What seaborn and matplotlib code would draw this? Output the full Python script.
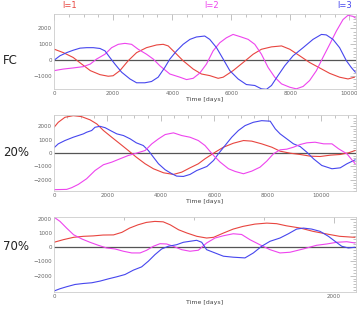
import numpy as np
import pandas as pd
import matplotlib
matplotlib.use("Agg")
import matplotlib.pyplot as plt
from matplotlib.ticker import MultipleLocator, AutoMinorLocator
import seaborn as sns

# ---------------- data ----------------
# Panel FC
fc_red_t = [0, 315, 650, 935, 1230, 1555, 1835, 2000, 2230, 2510, 2795, 3130, 3470, 3695, 3865, 4150, 4370, 4710, 4990,
            5270, 5555, 5725, 6060, 6400, 6740, 7020, 7360, 7700, 7980, 8315, 8650, 8990, 9330, 9665, 9950, 10170]
fc_red_v = [700, 480, 175, -235, -650, -900, -1000, -970, -650, -30, 480, 790, 960, 1000, 900, 380, -30, -550, -860,
            -960, -1130, -1060, -650, -140, 380, 690, 840, 900, 690, 280, -140, -480, -820, -1060, -1170, -1060]
fc_mag_t = [0, 315, 650, 990, 1230, 1440, 1725, 1950, 2175, 2400, 2625, 2850, 3130, 3360, 3580, 3920, 4260, 4485, 4710,
            4935, 5160, 5385, 5610, 5835, 6060, 6335, 6570, 6795, 7020, 7245, 7470, 7700, 7980, 8200, 8430, 8650, 8880,
            9100, 9330, 9555, 9780, 9950, 10120, 10200]
fc_mag_v = [-650, -550, -480, -400, -235, 75, 380, 790, 1000, 1060, 1000, 690, 380, 75, -340, -860, -1060, -1210, -1130,
            -800, -235, 590, 1100, 1410, 1620, 1460, 1310, 1000, 380, -450, -1060, -1480, -1690, -1790, -1640, -1270, -650,
            175, 1000, 1830, 2550, 2820, 2750, 2650]
fc_blu_t = [0, 200, 430, 650, 880, 1105, 1330, 1555, 1725, 1890, 2060, 2290, 2570, 2795, 3075, 3300, 3525, 3750, 3920,
            4150, 4370, 4600, 4820, 5100, 5270, 5500, 5725, 5950, 6230, 6510, 6795, 7020, 7190, 7360, 7580, 7810, 8090,
            8430, 8765, 9050, 9215, 9440, 9665, 9895, 10060, 10200]
fc_blu_v = [0, 280, 480, 630, 760, 790, 790, 740, 590, 175, -235, -750, -1170, -1410, -1410, -1330, -1060, -450, 75,
            590, 1000, 1310, 1460, 1520, 1310, 790, 75, -650, -1170, -1520, -1580, -1790, -1820, -1580, -960, -340, 280,
            790, 1310, 1620, 1590, 1310, 790, -30, -450, -750]

# Panel 20%
p20_red_t = [0, 160, 410, 720, 1030, 1350, 1600, 1850, 2160, 2470, 2780, 3080, 3410, 3720, 4100, 4470, 4780, 5090, 5400,
             5650, 6030, 6340, 6710, 7090, 7400, 7770, 8150, 8460, 8840, 9210, 9590, 9960, 10340, 10710, 11020, 11270]
p20_red_v = [1900, 2280, 2650, 2770, 2700, 2460, 2160, 1670, 1170, 680, 185, -310, -800, -1170, -1470, -1590, -1420, -1100,
             -800, -430, 60, 430, 725, 925, 880, 680, 430, 135, -15, -110, -235, -260, -160, -110, 15, 185]
p20_blu_t = [0, 160, 410, 720, 1100, 1220, 1410, 1535, 1720, 1910, 2160, 2350, 2600, 2850, 3080, 3340, 3530, 3720, 3910,
             4160, 4410, 4590, 4840, 5090, 5340, 5720, 5970, 6150, 6400, 6650, 6900, 7150, 7460, 7770, 8090, 8280, 8460,
             8710, 8960, 9210, 9460, 9710, 10020, 10400, 10710, 10960, 11270]
p20_blu_v = [385, 680, 925, 1170, 1420, 1540, 1670, 1910, 1980, 1880, 1615, 1420, 1295, 1050, 755, 555, 185, -310, -800,
             -1245, -1540, -1715, -1740, -1590, -1300, -1000, -555, -60, 555, 1170, 1670, 2035, 2280, 2400, 2360, 1790, 1420,
             1050, 680, 480, 60, -430, -925, -1170, -1100, -800, -505]
p20_mag_t = [0, 475, 660, 910, 1220, 1535, 1850, 2160, 2470, 2780, 3080, 3410, 3660, 3910, 4160, 4470, 4780, 5090, 5400,
             5650, 5970, 6220, 6530, 6780, 7090, 7400, 7710, 7960, 8210, 8460, 8710, 8960, 9210, 9460, 9770, 10090, 10400,
             10650, 10960, 11270]
p20_mag_v = [-2720, -2700, -2575, -2330, -1910, -1300, -870, -680, -430, -185, -15, 185, 680, 1050, 1370, 1495, 1295, 1170,
             925, 555, -185, -680, -1170, -1370, -1540, -1345, -1050, -605, -60, 235, 285, 430, 630, 755, 800, 680, 680,
             310, -60, -800]

# Panel 70%
p70_red_t = [0, 67, 140, 210, 280, 350, 425, 485, 540, 600, 660, 720, 780, 830, 890, 950, 1020, 1090, 1140, 1210, 1280,
             1350, 1435, 1520, 1590, 1660, 1760, 1850, 1950, 2040, 2115, 2150]
p70_red_v = [350, 535, 700, 770, 800, 860, 870, 1050, 1350, 1580, 1750, 1820, 1790, 1580, 1230, 1000, 770, 650, 700, 1000,
             1280, 1470, 1630, 1700, 1660, 1510, 1350, 1120, 930, 770, 720, 700]
p70_mag_t = [0, 43, 90, 140, 200, 257, 316, 376, 436, 495, 555, 615, 662, 710, 757, 805, 852, 912, 971, 1031, 1090, 1150,
             1210, 1280, 1340, 1400, 1470, 1543, 1614, 1686, 1780, 1876, 1948, 2019, 2091, 2150]
p70_mag_v = [2120, 1820, 1350, 880, 580, 350, 140, -50, -120, -280, -400, -400, -210, 70, 250, 230, 70, -170, -280, -210,
             300, 650, 810, 950, 900, 530, 180, -170, -400, -350, -120, 140, 230, 350, 390, 300]
p70_blu_t = [0, 43, 90, 150, 210, 270, 330, 390, 448, 507, 567, 626, 674, 721, 769, 817, 876, 924, 971, 1019, 1055, 1090,
             1150, 1210, 1280, 1364, 1424, 1483, 1543, 1614, 1674, 1733, 1781, 1840, 1900, 1960, 2007, 2055, 2102, 2150]
p70_blu_v = [-3080, -2920, -2780, -2620, -2550, -2500, -2380, -2220, -2080, -1920, -1610, -1380, -980, -520, -120, 70, 180,
             350, 420, 490, 350, -170, -400, -630, -700, -750, -400, 70, 420, 650, 950, 1280, 1350, 1280, 1120, 770, 420,
             70, -50, 0]

row_labels = ["FC", "20%", "70%"]
degree_labels = ["l=1", "l=2", "l=3"]
xlabel = "Time [days]"

RED, MAG, BLU = "#e8453f", "#ee44ee", "#4646ee"

panels = [
    dict(series=[(fc_red_t, fc_red_v, RED), (fc_mag_t, fc_mag_v, MAG), (fc_blu_t, fc_blu_v, BLU)],
         xlim=(0, 10220), ylim=(-1800, 2900), xmaj=2000, yticks=[-1000, 0, 1000, 2000]),
    dict(series=[(p20_red_t, p20_red_v, RED), (p20_blu_t, p20_blu_v, BLU), (p20_mag_t, p20_mag_v, MAG)],
         xlim=(0, 11300), ylim=(-2820, 2820), xmaj=2000, yticks=[-2000, -1000, 0, 1000, 2000]),
    dict(series=[(p70_red_t, p70_red_v, RED), (p70_mag_t, p70_mag_v, MAG), (p70_blu_t, p70_blu_v, BLU)],
         xlim=(0, 2157), ylim=(-3150, 2130), xmaj=2000, yticks=[-2000, -1000, 0, 1000, 2000]),
]

sns.set_style("white")
plt.rcParams['font.family'] = ['DejaVu Sans']

fig = plt.figure(figsize=(3.57, 3.13), dpi=100)
W, H = 357, 313
boxes = [(54, 14, 356, 89), (54, 115, 356, 191), (54, 217, 356, 292)]
label_y = [60, 153, 247]

for i, (p, (x0, y0, x1, y1)) in enumerate(zip(panels, boxes)):
    ax = fig.add_axes([x0 / W, 1 - y1 / H, (x1 - x0) / W, (y1 - y0) / H])
    ax.axhline(0, color="#555555", lw=0.9, zorder=1)
    for t, v, c in p["series"]:
        df = pd.DataFrame({"t": t, "v": v})
        sns.lineplot(data=df, x="t", y="v", ax=ax, color=c, lw=0.8, zorder=2)
    ax.set_xlim(*p["xlim"])
    ax.set_ylim(*p["ylim"])
    ax.xaxis.set_major_locator(MultipleLocator(p["xmaj"]))
    ax.xaxis.set_minor_locator(AutoMinorLocator(4))
    ax.set_yticks(p["yticks"])
    ax.yaxis.set_minor_locator(AutoMinorLocator(5))
    ax.tick_params(which="both", direction="in", top=True, right=True, colors="#aaaaaa",
                   labelcolor="#666666", labelsize=4, pad=1.5)
    ax.tick_params(which="major", length=4, width=0.5)
    ax.tick_params(which="minor", length=2, width=0.5)
    for s in ax.spines.values():
        s.set_color("#cccccc")
        s.set_linewidth(0.6)
    ax.set_xlabel(xlabel, fontsize=4.5, color="#444444", labelpad=1)
    ax.set_ylabel("")
    fig.text(3 / W, 1 - label_y[i] / H, row_labels[i], fontsize=8.5, ha="left", va="center", color="#222222")

for lab, xc, c in zip(degree_labels, [70, 212, 345], [RED, MAG, BLU]):
    fig.text(xc / W, 1 - 5 / H, lab, fontsize=6, color=c, ha="center", va="center")

fig.savefig("out.png", dpi=100)
